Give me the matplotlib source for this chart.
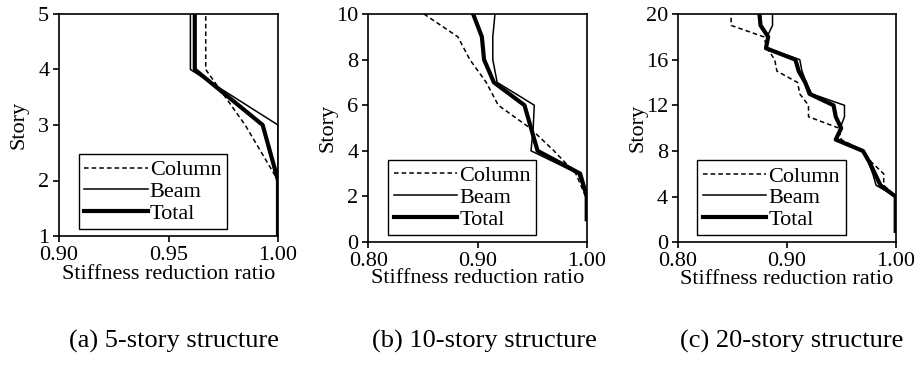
import matplotlib
matplotlib.use('Agg')
import matplotlib.pyplot as plt

plt.rcParams['font.family'] = ['Liberation Serif', 'DejaVu Serif']

# (a) 5-story structure
story_5 = [1, 2, 3, 4, 5]
column_5 = [1.0, 1.0, 0.985, 0.967, 0.967]
beam_5 = [1.0, 1.0, 1.0, 0.960, 0.960]
total_5 = [1.0, 1.0, 0.993, 0.962, 0.962]

# (b) 10-story structure
story_10 = [1, 2, 3, 4, 5, 6, 7, 8, 9, 10]
column_10 = [1.0, 0.999, 0.990, 0.970, 0.948, 0.919, 0.908, 0.893, 0.882, 0.851]
beam_10 = [1.0, 1.0, 0.992, 0.949, 0.951, 0.952, 0.918, 0.914, 0.914, 0.916]
total_10 = [1.0, 1.0, 0.994, 0.955, 0.949, 0.943, 0.915, 0.906, 0.904, 0.896]

# (c) 20-story structure
story_20 = list(range(1, 21))
column_20 = [1.0, 1.0, 1.0, 1.0, 0.989, 0.989, 0.978, 0.970, 0.950, 0.948,
             0.920, 0.920, 0.912, 0.910, 0.891, 0.889, 0.882, 0.879, 0.849, 0.849]
beam_20 = [1.0, 1.0, 1.0, 1.0, 0.982, 0.979, 0.975, 0.971, 0.946, 0.949,
           0.953, 0.953, 0.923, 0.918, 0.914, 0.912, 0.882, 0.882, 0.887, 0.887]
total_20 = [1.0, 1.0, 1.0, 1.0, 0.986, 0.981, 0.976, 0.970, 0.945, 0.950,
            0.945, 0.943, 0.921, 0.917, 0.911, 0.908, 0.881, 0.883, 0.876, 0.875]

panels = [
    dict(story=story_5, col=column_5, beam=beam_5, tot=total_5,
         xlim=(0.90, 1.00), xticks=[0.90, 0.95, 1.00], ylim=(1, 5), yticks=[1, 2, 3, 4, 5],
         rect=[59 / 915, 1 - 236 / 367, 219 / 915, 222 / 367], labelpad=0,
         caption='(a) 5-story structure', cx=174 / 915),
    dict(story=story_10, col=column_10, beam=beam_10, tot=total_10,
         xlim=(0.80, 1.00), xticks=[0.80, 0.90, 1.00], ylim=(0, 10), yticks=[0, 2, 4, 6, 8, 10],
         rect=[368.3 / 915, 1 - 242 / 367, 218.4 / 915, 228 / 367], labelpad=-1,
         caption='(b) 10-story structure', cx=484 / 915),
    dict(story=story_20, col=column_20, beam=beam_20, tot=total_20,
         xlim=(0.80, 1.00), xticks=[0.80, 0.90, 1.00], ylim=(0, 20), yticks=[0, 4, 8, 12, 16, 20],
         rect=[677.7 / 915, 1 - 242.3 / 367, 218 / 915, 228.3 / 367], labelpad=-1,
         caption='(c) 20-story structure', cx=792 / 915),
]

fig = plt.figure(figsize=(9.15, 3.67), dpi=100)

for p in panels:
    ax = fig.add_axes(p['rect'])
    ax.plot(p['col'], p['story'], color='black', lw=1.1, dashes=(3, 2), label='Column')
    ax.plot(p['beam'], p['story'], color='black', lw=1.1, label='Beam')
    ax.plot(p['tot'], p['story'], color='black', lw=3.0, label='Total')
    ax.set_xlim(*p['xlim'])
    ax.set_ylim(*p['ylim'])
    ax.set_xticks(p['xticks'])
    ax.set_xticklabels([f'{v:.2f}' for v in p['xticks']])
    ax.set_yticks(p['yticks'])
    for s in ax.spines.values():
        s.set_linewidth(1.2)
    ax.tick_params(labelsize=16, length=4, width=1.2, direction='out', pad=3)
    ax.set_xlabel('Stiffness reduction ratio', fontsize=16, labelpad=p['labelpad'])
    ax.set_ylabel('Story', fontsize=16)
    ax.yaxis.set_label_coords(-0.14, 0.5)
    leg = ax.legend(loc='lower left', bbox_to_anchor=(0.09, 0.03), borderaxespad=0,
                    fontsize=16, handlelength=2.85, handletextpad=0.1, borderpad=0.25,
                    labelspacing=0.05, fancybox=False, framealpha=1)
    leg.get_frame().set_edgecolor('black')
    leg.get_frame().set_linewidth(1.0)
    fig.text(p['cx'], 1 - 341 / 367, p['caption'], fontsize=19, ha='center', va='center')

fig.savefig('out.png', dpi=100)
